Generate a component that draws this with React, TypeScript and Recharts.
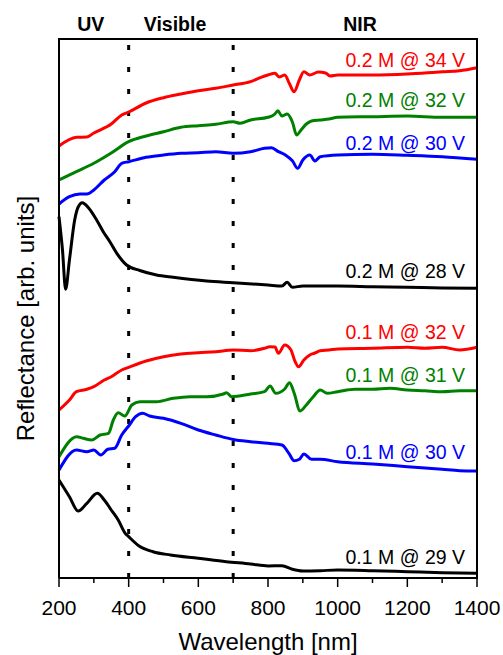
import { LineChart, Line, XAxis, YAxis, ReferenceLine, ReferenceDot } from "recharts";

// wavelength [nm], reflectance [arb. units]
const m02v34: [number, number][] = [
    [200, 432], [250, 440.7], [280, 441], [300, 445], [350, 454], [380, 463], [400, 466], [450, 475],
    [500, 480.3], [550, 484], [600, 487.3], [650, 489.7], [700, 493], [750, 496.3], [780, 500.7], [800, 503],
    [820, 504.7], [832, 501], [848, 503], [862, 494], [875, 486.3], [890, 498], [903, 506.3], [920, 503],
    [945, 506], [965, 505], [978, 502], [1000, 503], [1100, 503], [1200, 504], [1300, 506.3], [1350, 507.3], [1400, 510.3],
];
const m02v32: [number, number][] = [
    [200, 398], [250, 406.3], [300, 414.7], [350, 425], [400, 436.3], [450, 442], [500, 446.3], [550, 450.7],
    [600, 452.3], [650, 453.7], [700, 456.3], [720, 454.7], [750, 458], [800, 460.7], [820, 464], [828, 467.3],
    [840, 462], [855, 464], [870, 456], [882, 443], [895, 448], [910, 454], [925, 457], [950, 458], [975, 459],
    [1000, 460.7], [1100, 461.3], [1200, 462], [1300, 460.7], [1400, 460.7],
];
const m02v30: [number, number][] = [
    [200, 374], [230, 381.3], [260, 384], [280, 384], [300, 388], [330, 398], [360, 406.3], [380, 414.7],
    [400, 416.3], [450, 420.7], [500, 423], [550, 424.7], [600, 425.3], [650, 426.3], [700, 424.7], [750, 426.3],
    [790, 429.7], [810, 430.3], [830, 426.3], [850, 423], [870, 417.3], [885, 409.7], [900, 418], [920, 423],
    [935, 417], [950, 421.3], [1000, 423], [1100, 423.7], [1200, 422.7], [1300, 421.3], [1400, 418.7],
];
const m02v28: [number, number][] = [
    [200, 361.3], [210, 328], [219, 288.7], [230, 318], [245, 358], [255, 371], [267, 375.3], [285, 370],
    [308, 358], [327, 346.3], [346, 336.3], [366, 324.7], [394, 313], [432, 307.5], [480, 303], [528, 300.7],
    [624, 297], [700, 295.3], [800, 293], [840, 292], [855, 295.7], [870, 290.7], [900, 292], [1000, 292],
    [1100, 291.3], [1200, 290.7], [1300, 290], [1400, 289.7],
];
const m01v32: [number, number][] = [
    [200, 168], [230, 178], [250, 186.3], [280, 188.7], [300, 191.3], [330, 198], [350, 201.3], [380, 208],
    [400, 210.7], [450, 217], [500, 221.3], [550, 224], [600, 225.3], [650, 226.3], [700, 228], [750, 227.3],
    [790, 229.7], [805, 231.3], [820, 231], [830, 224.7], [848, 233], [866, 228], [876, 218], [888, 211.3],
    [903, 218], [920, 223], [935, 225], [950, 227.3], [975, 228], [1000, 229], [1100, 229.7], [1200, 230.7],
    [1250, 229.7], [1300, 230.7], [1350, 228], [1400, 230.7],
];
const m01v31: [number, number][] = [
    [200, 121.3], [251, 141.3], [270, 139.7], [294, 138], [318, 143], [342, 144.7], [356, 158], [370, 165.3],
    [389, 162], [409, 173], [432, 176.3], [480, 176.3], [528, 179.7], [576, 181.3], [624, 181.3], [672, 184],
    [681, 185.3], [696, 181.3], [750, 184], [790, 186.3], [806, 192], [822, 184.7], [848, 189], [862, 195.3],
    [875, 185], [892, 167], [910, 173], [930, 181.3], [950, 188], [970, 184.7], [1000, 186.3], [1050, 188.7],
    [1100, 188.7], [1150, 189.7], [1200, 188], [1250, 187.3], [1300, 186.3], [1350, 187.3], [1400, 187.3],
];
const m01v30: [number, number][] = [
    [200, 108], [250, 128], [280, 126.3], [300, 128], [320, 123], [340, 128.7], [360, 129.7], [380, 143],
    [400, 152], [420, 161.3], [440, 164.7], [460, 162], [500, 159.7], [550, 154.7], [600, 148], [650, 143],
    [700, 138.5], [750, 136.3], [800, 134.7], [840, 133], [860, 124.7], [875, 117.3], [890, 118.7], [903, 124],
    [925, 118.7], [950, 118.7], [1000, 116.3], [1100, 114], [1200, 111.3], [1300, 108.7], [1350, 107.3], [1400, 107],
];
const m01v29: [number, number][] = [
    [200, 98], [230, 81.3], [255, 67], [280, 74.7], [310, 84.7], [330, 78], [350, 68], [370, 58], [390, 44.7],
    [400, 41.3], [430, 32], [470, 26.3], [520, 23], [600, 19.7], [680, 16.3], [750, 14], [800, 12], [840, 12.3],
    [870, 8.7], [900, 7], [950, 7.3], [1000, 8], [1100, 7.3], [1200, 6.3], [1300, 5.3], [1400, 4.7],
];

const xTicks = [200, 300, 400, 500, 600, 700, 800, 900, 1000, 1100, 1200, 1300, 1400];
const regionEdges = [400, 700];
const regionNames = ["UV", "Visible", "NIR"];

const X_MAX = 1400;
const Y_MAX = 539;

const CHART_W = 503;
const CHART_H = 655;
const MARGIN = { top: 39, right: 26, left: 0, bottom: 0 };
const Y_AXIS_W = 59;
const X_AXIS_H = 77;

const toRows = (pts: [number, number][]) => pts.map(([nm, r]) => ({ nm, r }));

const series = [
    { name: "0.2 M @ 34 V", color: "#ff0000", pts: m02v34, labelAt: 518 },
    { name: "0.2 M @ 32 V", color: "#008000", pts: m02v32, labelAt: 478 },
    { name: "0.2 M @ 30 V", color: "#0000ff", pts: m02v30, labelAt: 435 },
    { name: "0.2 M @ 28 V", color: "#000000", pts: m02v28, labelAt: 307 },
    { name: "0.1 M @ 32 V", color: "#ff0000", pts: m01v32, labelAt: 246 },
    { name: "0.1 M @ 31 V", color: "#008000", pts: m01v31, labelAt: 203 },
    { name: "0.1 M @ 30 V", color: "#0000ff", pts: m01v30, labelAt: 126 },
    { name: "0.1 M @ 29 V", color: "#000000", pts: m01v29, labelAt: 21 },
];

const regionLabelX = [291, 533, 1064];
const FONT = "'Liberation Sans', Arial, sans-serif";

function AxisTick({ x, y, payload }: any) {
    const major = payload.value % 200 === 0;
    return (
        <g>
            <line x1={x} x2={x} y1={y} y2={y + (major ? 9 : 5)} stroke="#000" strokeWidth={1.5} />
            {major && (
                <text x={x} y={y + 37} textAnchor="middle" fontSize={21} fill="#000" fontFamily={FONT}>
                    {payload.value}
                </text>
            )}
        </g>
    );
}

function YLabel({ viewBox }: any) {
    const cx = viewBox.x + 25;
    const cy = viewBox.y + viewBox.height / 2 + 10;
    return (
        <text x={cx} y={cy} transform={`rotate(-90 ${cx} ${cy})`} textAnchor="middle" dominantBaseline="central"
            fontSize={24} fill="#000" fontFamily={FONT}>
            Reflectance [arb. units]
        </text>
    );
}

export default function App() {
    // box edges (top, right) drawn as an overlay on the plot area
    const plotLeft = MARGIN.left + Y_AXIS_W;
    const plotTop = MARGIN.top;
    const plotW = CHART_W - plotLeft - MARGIN.right;
    const plotH = CHART_H - MARGIN.top - MARGIN.bottom - X_AXIS_H;

    return (
        <div style={{ position: "relative", width: CHART_W, height: CHART_H, background: "#fff", fontFamily: FONT }}>
            <style>{"body{margin:0}"}</style>
            <LineChart width={CHART_W} height={CHART_H} margin={MARGIN}>
                <XAxis
                    dataKey="nm"
                    type="number"
                    domain={[200, X_MAX]}
                    ticks={xTicks}
                    interval={0}
                    height={X_AXIS_H}
                    tickSize={0}
                    tickMargin={0}
                    tickLine={false}
                    tick={<AxisTick />}
                    axisLine={{ stroke: "#000", strokeWidth: 2 }}
                    allowDuplicatedCategory={false}
                    label={{ value: "Wavelength [nm]", position: "insideBottom", offset: 5, fontSize: 24, fill: "#000" }}
                />
                <YAxis
                    type="number"
                    domain={[0, Y_MAX]}
                    width={Y_AXIS_W}
                    tick={false}
                    tickLine={false}
                    axisLine={{ stroke: "#000", strokeWidth: 2 }}
                    label={<YLabel />}
                />
                {regionEdges.map((edge) => (
                    <ReferenceLine key={edge} x={edge} stroke="#000" strokeWidth={3} strokeDasharray="5 17" />
                ))}
                {series.map((s) => (
                    <Line
                        key={s.name}
                        data={toRows(s.pts)}
                        dataKey="r"
                        type="monotone"
                        stroke={s.color}
                        strokeWidth={3}
                        dot={false}
                        isAnimationActive={false}
                    />
                ))}
                {series.map((s) => (
                    <ReferenceDot
                        key={"lbl" + s.name}
                        x={1380}
                        y={s.labelAt}
                        r={0}
                        stroke="none"
                        fill="none"
                        label={{ value: s.name, position: "left", offset: 5, fontSize: 19.5, fill: s.color }}
                    />
                ))}
                {regionNames.map((name, i) => (
                    <ReferenceDot
                        key={name}
                        x={regionLabelX[i]}
                        y={Y_MAX}
                        r={0}
                        stroke="none"
                        fill="none"
                        label={{ value: name, position: "top", offset: 8, fontSize: 19.5, fontWeight: "bold", fill: "#000" }}
                    />
                ))}
            </LineChart>
            <div
                style={{
                    position: "absolute",
                    left: plotLeft,
                    top: plotTop - 1,
                    width: plotW,
                    height: plotH,
                    borderTop: "2px solid #000",
                    borderRight: "2px solid #000",
                    boxSizing: "content-box",
                    marginLeft: -1,
                    pointerEvents: "none",
                }}
            />
        </div>
    );
}
